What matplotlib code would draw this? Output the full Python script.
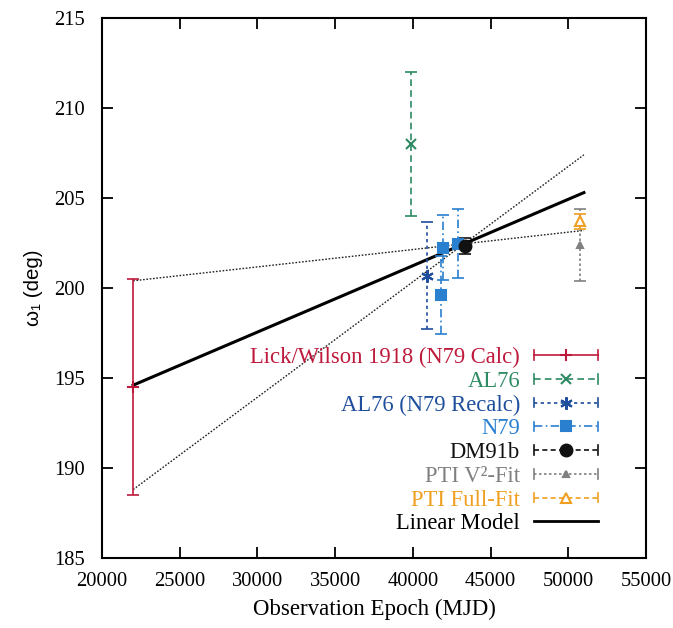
import matplotlib
matplotlib.use("Agg")
import matplotlib.pyplot as plt
from matplotlib.lines import Line2D
from matplotlib.legend_handler import HandlerLine2D

plt.rcParams['font.family'] = ['Liberation Serif', 'DejaVu Serif']
plt.rcParams['mathtext.fontset'] = 'custom'
plt.rcParams['mathtext.rm'] = 'Liberation Serif'
plt.rcParams['mathtext.it'] = 'Liberation Serif:italic'

# Measurements of omega_1 (deg) against observation epoch (MJD)
lick_epoch = [22000]
lick_omega = [194.5]
lick_err = [6.0]

al76_epoch = [39900]
al76_omega = [208.0]
al76_err = [4.0]

al76r_epoch = [40900]
al76r_omega = [200.67]
al76r_err = [2.97]

n79_epoch = [41800, 41950, 42900]
n79_omega = [199.6, 202.25, 202.47]
n79_err = [2.17, 1.81, 1.9]

dm91_epoch = [43360]
dm91_omega = [202.35]
dm91_err = [0.45]

ptiv_epoch = [50760]
ptiv_omega = [202.4]
ptiv_err = [2.0]

ptif_epoch = [50760]
ptif_omega = [203.7]
ptif_err = [0.42]

# Linear model and its bounding lines
model_epoch = [22000, 51000]
model_omega = [194.6, 205.3]
bound_hi_omega = [200.4, 203.2]
bound_lo_omega = [188.8, 207.4]

labels = ["Lick/Wilson 1918 (N79 Calc)", "AL76", "AL76 (N79 Recalc)", "N79",
          "DM91b", "PTI V²-Fit", "PTI Full-Fit", "Linear Model"]

c_lick = '#be1a3c'
c_al76 = '#2e8a62'
c_al76r = '#1f4f9c'
c_n79 = '#2a7fcf'
c_dm = '#111111'
c_ptiv = '#808080'
c_ptif = '#f0a020'

fig = plt.figure(figsize=(6.73, 6.28), dpi=100)
ax = fig.add_axes([0.1516, 0.1115, 0.8084, 0.8598])

ax.plot(model_epoch, bound_hi_omega, color='#222222', lw=1.0, ls=(0, (1.2, 1.2)))
ax.plot(model_epoch, bound_lo_omega, color='#222222', lw=1.0, ls=(0, (1.2, 1.2)))
ax.plot(model_epoch, model_omega, color='black', lw=2.2)

series = [
    (lick_epoch, lick_omega, lick_err, c_lick, '-', '+', 9, 'full'),
    (al76_epoch, al76_omega, al76_err, c_al76, (0, (4, 2.5)), 'x', 7, 'full'),
    (al76r_epoch, al76r_omega, al76r_err, c_al76r, (0, (2, 2)), (6, 2, 0), 9, 'full'),
    (n79_epoch, n79_omega, n79_err, c_n79, (0, (5, 2, 1, 2)), 's', 7.5, 'full'),
    (dm91_epoch, dm91_omega, dm91_err, c_dm, (0, (3, 2)), 'o', 8.5, 'full'),
    (ptiv_epoch, ptiv_omega, ptiv_err, c_ptiv, (0, (1.5, 1.5)), '^', 5, 'full'),
    (ptif_epoch, ptif_omega, ptif_err, c_ptif, (0, (3, 2)), '^', 7, 'none'),
]

handles = []
for ex, ey, ee, col, ls, mk, ms, fill in series:
    cont = ax.errorbar(ex, ey, yerr=ee, fmt='none', ecolor=col, elinewidth=1.2,
                       capsize=4, capthick=1.2)
    for coll in cont[2]:
        coll.set_linestyle(ls)
    mfc = col if fill == 'full' else 'white'
    ax.plot(ex, ey, ls='none', marker=mk, ms=ms, color=col, mfc=mfc, mew=1.5, zorder=4)
    handles.append(Line2D([], [], color=col, ls=ls, lw=1.2, marker=mk,
                          ms=ms, mfc=mfc, mew=1.5))
handles.append(Line2D([], [], color='black', lw=2.0))


class HandlerCapped(HandlerLine2D):
    """Horizontal sample line with end caps, marker in the middle."""

    def create_artists(self, legend, orig_handle, xdescent, ydescent,
                       width, height, fontsize, trans):
        arts = super().create_artists(legend, orig_handle, xdescent, ydescent,
                                      width, height, fontsize, trans)
        if orig_handle.get_marker() in (None, 'None', 'none', ''):
            return arts
        y0 = height / 2 - ydescent
        h = height * 0.3
        for x in (-xdescent, -xdescent + width):
            cap = Line2D([x, x], [y0 - h, y0 + h], color=orig_handle.get_color(),
                         lw=1.2, transform=trans)
            arts.append(cap)
        return arts


hmap = {h: HandlerCapped(numpoints=1) for h in handles}
leg = ax.legend(handles, labels, loc='lower right', bbox_to_anchor=(0.912, 0.044),
                frameon=False, markerfirst=False, fontsize=16.3, handlelength=2.85,
                handletextpad=0.6, labelspacing=0.12, borderpad=0, borderaxespad=0,
                handler_map=hmap, labelcolor='linecolor')

ax.set_xlim(20000, 55000)
ax.set_ylim(185, 215)
ax.set_xticks(range(20000, 55001, 5000))
ax.set_yticks(range(185, 216, 5))
ax.tick_params(direction='in', length=8, width=1.3, top=True, right=True,
               labelsize=14.8)
ax.tick_params(axis='x', pad=10)
ax.tick_params(axis='y', pad=12.5)
for sp in ax.spines.values():
    sp.set_linewidth(1.5)

ax.set_xlabel("Observation Epoch (MJD)", fontsize=16.5, labelpad=6)
ax.set_ylabel("ω₁ (deg)", fontsize=14.8, family=['Liberation Sans', 'DejaVu Sans'],
              labelpad=8)

fig.savefig("out.png", dpi=100)
